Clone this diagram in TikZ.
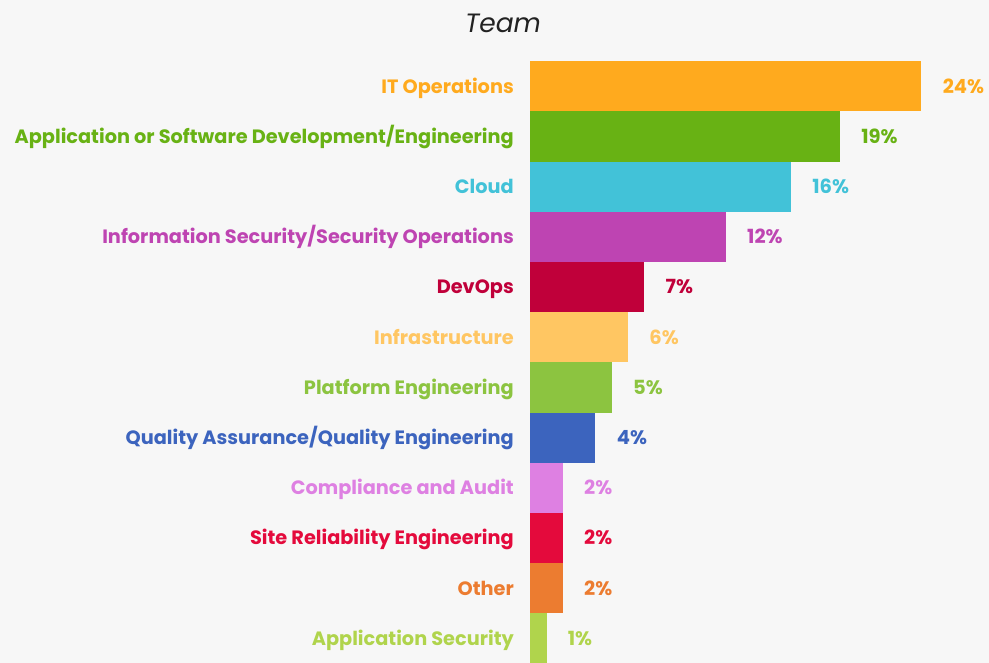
\documentclass[tikz,border=0pt]{standalone}
\usepackage{fontspec}
\setmainfont{Poppins}
\usetikzlibrary{positioning}
\definecolor{pagegrey}{RGB}{247,247,247}
\definecolor{titleblack}{RGB}{34,34,34}
\definecolor{itops}{RGB}{255,170,30}
\definecolor{appdev}{RGB}{104,178,20}
\definecolor{cloud}{RGB}{66,194,216}
\definecolor{infosec}{RGB}{190,68,178}
\definecolor{devops}{RGB}{192,0,58}
\definecolor{infra}{RGB}{255,198,98}
\definecolor{platform}{RGB}{140,196,64}
\definecolor{qaeng}{RGB}{60,100,190}
\definecolor{compliance}{RGB}{222,128,226}
\definecolor{sre}{RGB}{228,10,60}
\definecolor{other}{RGB}{236,124,48}
\definecolor{appsec}{RGB}{176,212,76}
\tikzset{
    teambar/.style={rectangle, inner sep=0pt, minimum height=50.2pt, anchor=north west},
    teamlabel/.style={anchor=east, inner sep=0pt, text height=13.5pt, text depth=0pt, font=\bfseries\fontsize{19.3}{22}\selectfont},
    pctlabel/.style={anchor=west, inner sep=0pt, text height=13.5pt, text depth=0pt, font=\bfseries\fontsize{19.5}{22}\selectfont},
}

\begin{document}
\begin{tikzpicture}[x=1pt, y=-1pt]
    \fill[pagegrey] (0,0) rectangle (989,663);
    \useasboundingbox (0,0) rectangle (989,663);
    \node[font=\itshape\fontsize{26.5}{30}\selectfont, text=titleblack] (title) at (503,23) {Team};
    \foreach \i/\v/\c/\t in {0/24/itops/{IT Operations},
                             1/19/appdev/{Application or Software Development/Engineering},
                             2/16/cloud/{Cloud},
                             3/12/infosec/{Information Security/Security Operations},
                             4/7/devops/{DevOps},
                             5/6/infra/{Infrastructure},
                             6/5/platform/{Platform Engineering},
                             7/4/qaeng/{Quality Assurance/Quality Engineering},
                             8/2/compliance/{Compliance and Audit},
                             9/2/sre/{Site Reliability Engineering},
                             10/2/other/{Other},
                             11/1/appsec/{Application Security}} {
        \pgfmathsetmacro\w{\v*16.3}
        \node[teambar, fill=\c, minimum width=\w pt] (bar\i) at (530, 61+\i*50.2) {};
        \node[teamlabel, text=\c, left=16pt of bar\i.west] (name\i) {\t};
        \node[pctlabel, text=\c, right=21pt of bar\i.east] (pct\i) {\v\%};
    }
\end{tikzpicture}
\end{document}
